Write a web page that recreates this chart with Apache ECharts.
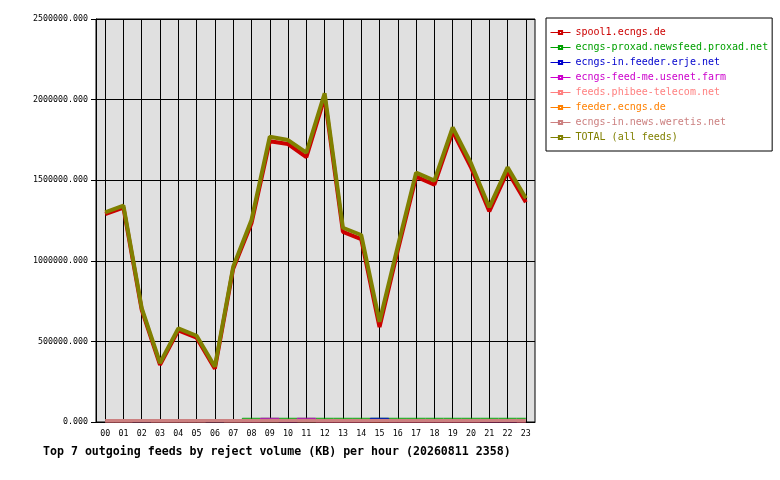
<!DOCTYPE html>
<html><head><meta charset="utf-8">
<script src="https://cdn.jsdelivr.net/npm/echarts@6/dist/echarts.min.js"></script>
<style>html,body{margin:0;padding:0;background:#fff}#c{width:780px;height:480px}</style>
</head><body><div id="c"></div>
<script>
const hours = ['00','01','02','03','04','05','06','07','08','09','10','11','12','13','14','15','16','17','18','19','20','21','22','23'];
const feedNames = ['spool1.ecngs.de','ecngs-proxad.newsfeed.proxad.net','ecngs-in.feeder.erje.net','ecngs-feed-me.usenet.farm','feeds.phibee-telecom.net','feeder.ecngs.de','ecngs-in.news.weretis.net','TOTAL (all feeds)'];
const feedColors = ['#cc0000','#00a000','#0000cc','#cc00cc','#ff8080','#ff8000','#cc8080','#808000'];
const spool1 = [1289000,1330000,695000,354000,569000,523000,331000,951000,1233000,1742000,1724000,1643000,2014000,1180000,1135000,589000,1065000,1522000,1472000,1803000,1580000,1307000,1555000,1363000];
const proxad = [0,0,0,0,0,0,0,0,23000,23000,23000,23000,23000,23000,23000,23000,23000,23000,23000,23000,23000,23000,23000,23000];
const erje = [0,0,0,0,0,0,0,0,0,0,0,0,0,0,0,23000,0,0,0,0,0,0,0,0];
const usenetFarm = [0,0,0,0,0,0,0,0,0,23000,0,23000,0,0,0,0,0,0,0,0,0,0,0,0];
const phibee = [0,0,14000,0,0,0,14000,0,0,0,14000,0,0,0,0,0,0,0,0,0,0,14000,14000,0];
const feederEcngs = [0,0,0,0,0,0,0,0,0,0,0,0,0,0,0,0,0,0,0,0,0,0,0,0];
const weretis = [9000,9000,9000,9000,9000,9000,9000,9000,9000,9000,9000,9000,9000,9000,9000,9000,9000,9000,9000,9000,9000,9000,9000,9000];
const total = [1301000,1342000,707000,366000,581000,535000,343000,963000,1253000,1770000,1749000,1671000,2039000,1205000,1160000,622000,1090000,1547000,1497000,1828000,1605000,1332000,1580000,1388000];
const yTicks = {min:0, max:2500000, interval:500000};
const titleText = 'Top 7 outgoing feeds by reject volume (KB) per hour (20260811 2358)';

const allData = [spool1, proxad, erje, usenetFarm, phibee, feederEcngs, weretis, total];
const widths = [4,1,1,1,1,1,3,4];
const stepped = [false,true,true,true,true,true,true,false];
const mono = '"DejaVu Sans Mono", monospace';

const chart = echarts.init(document.getElementById('c'));
chart.setOption({
  animation:false,
  backgroundColor:'#fff',
  title:{text:titleText, left:43, top:446, padding:0,
    textStyle:{fontFamily:mono, fontSize:11.6, fontWeight:'bold', color:'#000'}},
  legend:{orient:'vertical', left:546, top:18, backgroundColor:'#fff', borderColor:'#000', borderWidth:1,
    padding:[8,4,7,4], itemGap:2, itemWidth:20, itemHeight:4, selectedMode:false,
    lineStyle:{width:1},
    textStyle:{fontFamily:mono, fontSize:10, lineHeight:13},
    data: feedNames.map((n,i)=>({name:n, textStyle:{color:feedColors[i]}}))},
  grid:{left:96, top:19, width:439, height:403, show:true, backgroundColor:'#e0e0e0', borderColor:'#000', borderWidth:1},
  xAxis:{type:'category', data:hours, boundaryGap:true,
    axisLine:{lineStyle:{color:'#000', width:1}},
    axisTick:{alignWithLabel:true, length:5, lineStyle:{color:'#000'}},
    axisLabel:{color:'#000', fontFamily:mono, fontSize:8.3, margin:8, interval:0},
    splitLine:{show:true, alignWithLabel:true, interval:0, lineStyle:{color:'#000', width:1}}},
  yAxis:{type:'value', min:yTicks.min, max:yTicks.max, interval:yTicks.interval,
    axisLine:{show:true, lineStyle:{color:'#000'}},
    axisTick:{show:true, length:5, lineStyle:{color:'#000'}},
    axisLabel:{formatter:v=>v.toFixed(3), color:'#000', fontFamily:mono, fontSize:8.3, margin:8},
    splitLine:{show:true, lineStyle:{color:'#000', width:1}}},
  series: feedNames.map((n,i)=>({
    name:n, type:'line', data:allData[i], color:feedColors[i],
    symbol:'emptyRect', showSymbol:false, step: stepped[i] ? 'middle' : false,
    lineStyle:{width:widths[i], color:feedColors[i]}, itemStyle:{color:feedColors[i]},
    emphasis:{disabled:true}, silent:true
  }))
});
</script>
</body></html>
